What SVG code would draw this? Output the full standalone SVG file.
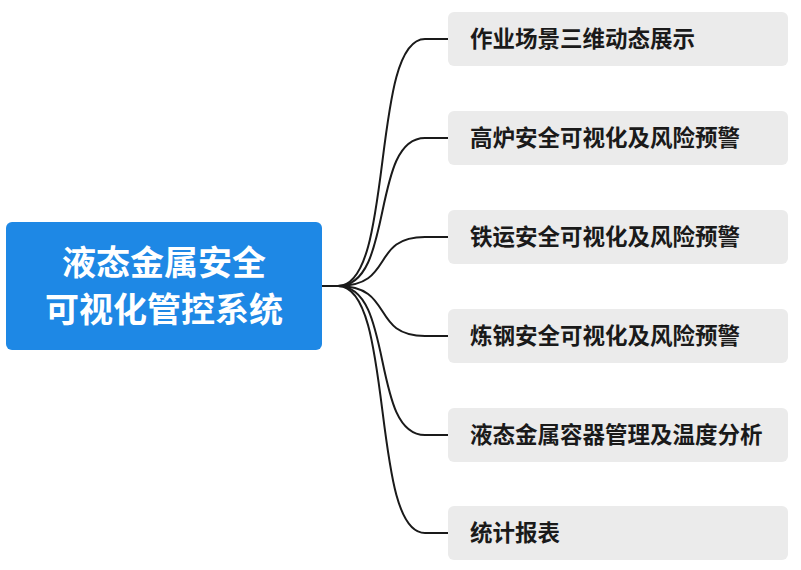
<svg xmlns="http://www.w3.org/2000/svg" width="801" height="570" viewBox="0 0 801 570">
<style>
.c{fill:#ebebeb}
.t{font-family:"Noto Sans CJK SC","Noto Sans",sans-serif;font-size:22.5px;font-weight:bold;fill:#1a1a1a}
.r{font-family:"Noto Sans CJK SC","Noto Sans",sans-serif;font-size:34px;font-weight:bold;fill:#fff;text-anchor:middle}
#edges path{fill:none;stroke:#1a1a1a;stroke-width:2}
</style>
<rect width="801" height="570" fill="#fff"/>
<g id="edges">
<path d="M322,286 H338 C395,286 370,39 425,39 H448"/>
<path d="M338,286 C395,286 370,138 425,138 H448"/>
<path d="M338,286 C395,286 370,237 425,237 H448"/>
<path d="M338,286 C395,286 370,336 425,336 H448"/>
<path d="M338,286 C395,286 370,435 425,435 H448"/>
<path d="M338,286 C395,286 370,533 425,533 H448"/>
</g>
<g id="root"><rect x="6" y="222" width="316" height="128" rx="6" fill="#1e88e5"/>
<text class="r" x="164" y="275">液态金属安全</text><text class="r" x="164" y="322">可视化管控系统</text></g>
<g id="n1"><rect class="c" x="448" y="12" width="340" height="54" rx="6"/><text class="t" x="470" y="47">作业场景三维动态展示</text></g>
<g id="n2"><rect class="c" x="448" y="111" width="340" height="54" rx="6"/><text class="t" x="470" y="146">高炉安全可视化及风险预警</text></g>
<g id="n3"><rect class="c" x="448" y="210" width="340" height="54" rx="6"/><text class="t" x="470" y="245">铁运安全可视化及风险预警</text></g>
<g id="n4"><rect class="c" x="448" y="309" width="340" height="54" rx="6"/><text class="t" x="470" y="344">炼钢安全可视化及风险预警</text></g>
<g id="n5"><rect class="c" x="448" y="408" width="340" height="54" rx="6"/><text class="t" x="470" y="443">液态金属容器管理及温度分析</text></g>
<g id="n6"><rect class="c" x="448" y="506" width="340" height="54" rx="6"/><text class="t" x="470" y="541">统计报表</text></g>
</svg>
